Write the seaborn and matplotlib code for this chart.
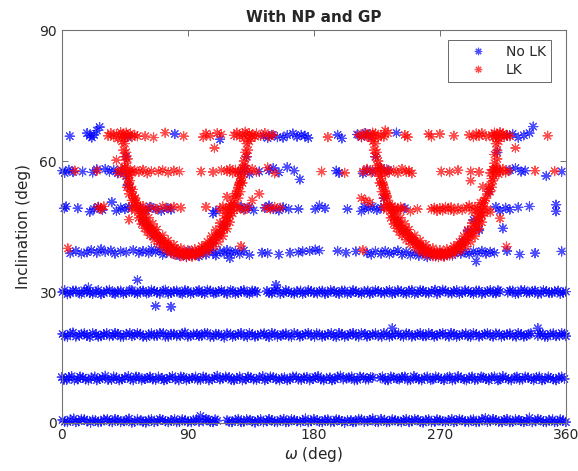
import matplotlib
matplotlib.use("Agg")
import matplotlib.pyplot as plt
import pandas as pd
import seaborn as sns

# (omega [deg], inclination [deg])
no_lk_band0 = [
    (0.5, 0.7), (4, 0.2), (8.5, 1.0), (12, 0.4), (16, 0.8), (20.5, 0.1), (24, 0.6), (28, 0.3),
    (32.5, 0.9), (36, 0.2), (40, 0.7), (44.5, 0.4), (48, 1.0), (52, 0.3), (56.5, 0.6), (60, 0.1),
    (64, 0.8), (68.5, 0.4), (72, 0.7), (76, 0.2), (80.5, 0.9), (84, 0.3), (88, 0.6), (92.5, 0.2),
    (96, 0.8), (99, 1.6), (101, 0.4), (104.5, 0.7), (108, 0.2), (111, 0.5), (118, 0.6), (121.5, 0.2),
    (126, 0.9), (130, 0.3), (134.5, 0.7), (138, 0.1), (142, 0.8), (146.5, 0.4), (150, 0.6), (154, 0.2),
    (158.5, 0.9), (162, 0.3), (166, 0.7), (170.5, 0.2), (174, 1.0), (178, 0.4), (182.5, 0.6), (186, 0.2),
    (190, 0.8), (194.5, 0.3), (198, 0.7), (202, 0.1), (206.5, 0.6), (210, 0.3), (214, 0.8), (218.5, 0.4),
    (222, 1.0), (226, 0.2), (230.5, 0.7), (234, 0.3), (238, 0.6), (242.5, 0.2), (246, 0.9), (250, 0.4),
    (254.5, 0.7), (258, 0.1), (262, 0.8), (266.5, 0.3), (270, 0.6), (274, 0.2), (278.5, 0.9), (282, 0.4),
    (286, 0.7), (290.5, 0.2), (294, 0.8), (298, 0.3), (302.5, 1.1), (306, 0.4), (310, 0.6), (314.5, 0.2),
    (318, 0.9), (322, 0.3), (326.5, 0.7), (330, 0.2), (334, 1.2), (338.5, 0.4), (342, 0.7), (346, 0.2),
    (350.5, 0.8), (354, 0.3), (358, 0.6), (360, 0.2),
]
no_lk_band0_fill = [
    (2, 0.3), (6, 0.8), (10, 0.2), (14, 0.9), (18, 0.4), (22, 0.7), (26, 0.2), (30, 0.8),
    (34, 0.4), (38, 0.9), (42, 0.2), (46, 0.6), (50, 0.1), (54, 0.8), (58, 0.3), (62, 0.7),
    (66, 0.2), (70, 0.9), (74, 0.4), (78, 0.6), (82, 0.2), (86, 0.8), (90, 0.3), (94, 0.7),
    (98, 0.3), (103, 0.9), (106, 0.3), (109.5, 0.8), (119.5, 0.3), (124, 0.7), (128, 0.2), (132, 0.8),
    (136, 0.4), (140, 0.6), (144, 0.2), (148, 0.9), (152, 0.3), (156, 0.7), (160, 0.2), (164, 0.8),
    (168, 0.4), (172, 0.6), (176, 0.2), (180, 0.9), (184, 0.3), (188, 0.7), (192, 0.2), (196, 0.8),
    (200, 0.4), (204, 0.6), (208, 0.2), (212, 0.9), (216, 0.3), (220, 0.7), (224, 0.3), (228, 0.9),
    (232, 0.2), (236, 0.8), (240, 0.4), (244, 0.6), (248, 0.2), (252, 0.9), (256, 0.3), (260, 0.7),
    (264, 0.2), (268, 0.8), (272, 0.4), (276, 0.6), (280, 0.2), (284, 0.9), (288, 0.3), (292, 0.7),
    (296, 0.2), (300, 0.8), (304, 0.3), (308, 0.9), (312, 0.3), (316, 0.7), (320, 0.2), (324, 0.8),
    (328, 0.4), (332, 0.6), (336, 0.2), (340, 0.9), (344, 0.3), (348, 0.7), (352, 0.2), (356, 0.8),
]
no_lk_band10 = [
    (0, 10.5), (3.5, 9.9), (7, 10.7), (11.5, 10.0), (15, 10.4), (19, 9.8), (23.5, 10.6), (27, 10.1),
    (31, 10.8), (35.5, 9.9), (39, 10.4), (43, 10.0), (47.5, 10.7), (51, 9.8), (55, 10.5), (59.5, 10.1),
    (63, 10.6), (67, 9.9), (71.5, 10.3), (75, 10.0), (79, 10.7), (83.5, 9.8), (87, 10.5), (91, 10.1),
    (95.5, 10.6), (99, 9.9), (103, 10.4), (107.5, 10.0), (111, 10.8), (115, 10.2), (119.5, 10.5), (123, 9.8),
    (127, 10.6), (131.5, 10.0), (135, 10.4), (139, 9.9), (143.5, 10.7), (147, 10.1), (151, 10.5), (155.5, 9.8),
    (159, 10.4), (163, 10.0), (167.5, 10.6), (171, 9.9), (175, 10.5), (179.5, 10.1), (183, 10.7), (187, 9.8),
    (191.5, 10.4), (195, 10.0), (199, 10.8), (203.5, 10.2), (207, 10.6), (211, 9.9), (215.5, 10.5), (219, 10.0),
    (222, 10.4), (227.5, 10.3), (231, 9.9), (235, 10.6), (239.5, 10.1), (243, 10.5), (247, 9.8), (251.5, 10.7),
    (255, 10.0), (259, 10.4), (263.5, 9.9), (267, 10.6), (271, 10.1), (275.5, 10.5), (279, 9.8), (283, 10.7),
    (287.5, 10.0), (291, 10.4), (295, 9.9), (299.5, 10.6), (303, 10.1), (307, 10.5), (311.5, 9.8), (315, 10.7),
    (319, 10.0), (323.5, 10.4), (327, 9.9), (331, 10.6), (335.5, 10.1), (339, 10.5), (343, 9.8), (347.5, 10.6),
    (351, 10.0), (355, 10.4), (359, 10.1),
]
no_lk_band10_fill = [
    (1.5, 9.9), (5, 10.5), (9, 9.8), (13, 10.6), (17, 10.0), (21, 10.4), (25, 9.8), (29, 10.3),
    (33, 9.9), (37, 10.6), (41, 9.8), (45, 10.4), (49, 10.0), (53, 10.6), (57, 9.8), (61, 10.3),
    (65, 10.0), (69, 10.6), (73, 9.8), (77, 10.4), (81, 10.0), (85, 10.6), (89, 9.8), (93, 10.3),
    (97, 9.9), (101, 10.6), (105, 9.8), (109, 10.4), (113, 10.0), (117, 10.6), (121, 9.9), (125, 10.3),
    (129, 9.8), (133, 10.6), (137, 10.0), (141, 10.4), (145, 9.8), (149, 10.6), (153, 10.0), (157, 10.3),
    (161, 9.8), (165, 10.6), (169, 10.0), (173, 10.4), (177, 9.8), (181, 10.5), (185, 10.0), (189, 10.3),
    (193, 9.8), (197, 10.6), (201, 10.0), (205, 10.4), (209, 9.8), (213, 10.6), (217, 10.0), (220.5, 10.5),
    (229, 10.6), (233, 9.8), (237, 10.4), (241, 10.0), (245, 10.6), (249, 9.9), (253, 10.3), (257, 9.8),
    (261, 10.6), (265, 10.0), (269, 10.4), (273, 9.8), (277, 10.6), (281, 10.0), (285, 10.3), (289, 9.8),
    (293, 10.6), (297, 10.0), (301, 10.4), (305, 9.8), (309, 10.6), (313, 10.0), (317, 10.3), (321, 9.8),
    (325, 10.6), (329, 10.0), (333, 10.4), (337, 9.8), (341, 10.6), (345, 10.0), (349, 10.3), (353, 9.8),
    (357, 10.6),
]
no_lk_band20 = [
    (0.5, 20.4), (4, 19.8), (8, 20.7), (12.5, 20.0), (16, 20.5), (20, 19.7), (24.5, 20.3), (28, 19.9),
    (32, 20.6), (36.5, 20.0), (40, 20.4), (44, 19.8), (48.5, 20.6), (52, 20.1), (56, 20.4), (60.5, 19.7),
    (64, 20.5), (68, 20.0), (72.5, 20.6), (76, 19.8), (80, 20.4), (84.5, 20.0), (88, 20.7), (92, 19.9),
    (96.5, 20.4), (100, 20.0), (104, 20.6), (108.5, 19.8), (112, 20.3), (116, 19.6), (120.5, 20.4), (124, 20.0),
    (128, 20.6), (132.5, 19.8), (136, 20.3), (140, 20.0), (144.5, 20.5), (148, 19.7), (152, 20.4), (156.5, 20.0),
    (160, 20.5), (164, 19.8), (168.5, 20.3), (172, 20.0), (176, 20.6), (180.5, 19.8), (184, 20.4), (188, 20.0),
    (192.5, 20.6), (196, 19.7), (200, 20.3), (204.5, 20.0), (208, 20.6), (212, 19.8), (216.5, 20.4), (220, 20.0),
    (224, 20.5), (228.5, 19.8), (232, 20.3), (236, 20.0), (236, 21.7), (240.5, 20.5), (244, 19.8), (248, 20.4),
    (252.5, 20.0), (256, 20.6), (260, 19.9), (264.5, 20.3), (268, 20.0), (272, 20.6), (276.5, 19.8), (280, 20.4),
    (284, 20.0), (288.5, 20.5), (292, 19.8), (296, 20.3), (300.5, 20.0), (304, 20.6), (308, 19.8), (312.5, 20.4),
    (316, 20.0), (320, 20.5), (324.5, 19.8), (328, 20.3), (332, 20.0), (335, 20.5), (340, 20.0), (340, 21.7),
    (343.5, 20.4), (347, 19.8), (351, 20.5), (355.5, 20.0), (359, 20.4),
]
no_lk_band20_fill = [
    (2, 19.9), (6, 20.5), (10, 19.8), (14, 20.4), (18, 20.0), (22, 20.6), (26, 19.8), (30, 20.3),
    (34, 19.9), (38, 20.6), (42, 19.8), (46, 20.4), (50, 19.9), (54, 20.6), (58, 19.8), (62, 20.3),
    (66, 20.0), (70, 20.6), (74, 19.8), (78, 20.4), (82, 19.9), (86, 20.5), (90, 19.8), (94, 20.4),
    (98, 19.9), (102, 20.6), (106, 19.8), (110, 20.4), (114, 20.0), (118, 20.5), (122, 19.8), (126, 20.3),
    (130, 19.9), (134, 20.6), (138, 19.8), (142, 20.4), (146, 20.0), (150, 20.6), (154, 19.8), (158, 20.3),
    (162, 19.9), (166, 20.6), (170, 19.8), (174, 20.4), (178, 20.0), (182, 20.5), (186, 19.8), (190, 20.3),
    (194, 19.9), (198, 20.6), (202, 19.8), (206, 20.4), (210, 20.0), (214, 20.6), (218, 19.8), (222, 20.3),
    (226, 19.9), (230, 20.6), (234, 19.8), (238, 20.4), (242, 20.0), (246, 20.5), (250, 19.8), (254, 20.3),
    (258, 19.9), (262, 20.6), (266, 19.8), (270, 20.4), (274, 20.0), (278, 20.6), (282, 19.8), (286, 20.3),
    (290, 19.9), (294, 20.6), (298, 19.8), (302, 20.4), (306, 20.0), (310, 20.5), (314, 19.8), (318, 20.3),
    (322, 19.9), (326, 20.6), (330, 19.8), (333.5, 20.4), (341.5, 20.5), (345, 19.8), (349, 20.4), (353, 19.9),
    (357, 20.6), (360, 19.9),
]
no_lk_band30 = [
    (0.5, 30.0), (4, 29.5), (8, 30.3), (12.5, 29.7), (16, 30.4), (19, 31.0), (20, 29.8), (24.5, 30.1),
    (28, 29.5), (32, 30.3), (36.5, 29.8), (40, 30.2), (44, 29.6), (48.5, 30.4), (52, 29.8), (54, 32.7),
    (56, 30.2), (60.5, 29.7), (64, 30.5), (67, 26.8), (68, 29.9), (72.5, 30.3), (76, 29.6), (78, 26.6),
    (80, 30.2), (84.5, 29.8), (88, 30.4), (92, 29.6), (96.5, 30.1), (100, 29.8), (104, 30.5), (108.5, 29.7),
    (112, 30.2), (116, 29.9), (120.5, 30.4), (124, 29.6), (128, 30.2), (132.5, 29.8), (136, 30.3), (139.5, 29.9),
    (146.5, 30.2), (150, 29.7), (153, 31.6), (154, 30.5), (158.5, 29.8), (162, 30.1), (166, 29.6), (170.5, 30.3),
    (174, 29.8), (178, 30.2), (182.5, 29.7), (186, 30.3), (190, 29.8), (194.5, 30.2), (198, 29.6), (202, 30.3),
    (206.5, 29.8), (210, 30.1), (214, 29.6), (218.5, 30.3), (222, 29.8), (226, 30.2), (230.5, 29.7), (234, 30.4),
    (238, 29.8), (242.5, 30.2), (246, 29.6), (250, 30.4), (254.5, 29.8), (258, 30.3), (262, 29.7), (266.5, 30.5),
    (270, 29.9), (274, 30.3), (278.5, 29.7), (282, 30.4), (286, 29.8), (290.5, 30.2), (294, 29.6), (298, 30.3),
    (302.5, 29.8), (306, 30.4), (310, 29.7), (313, 30.1), (318.5, 29.9), (322, 30.3), (326, 29.7), (330.5, 30.4),
    (334, 29.8), (338, 30.3), (342.5, 29.7), (346, 30.2), (350, 29.8), (354.5, 30.3), (358, 29.9), (360, 30.1),
]
no_lk_band30_fill = [
    (2, 30.4), (6, 29.7), (10, 30.3), (14, 29.6), (18, 30.2), (22, 29.6), (26, 30.4), (30, 29.8),
    (34, 30.5), (38, 29.6), (42, 30.3), (46, 29.8), (50, 30.4), (54, 29.6), (58, 30.3), (62, 29.8),
    (66, 30.2), (70, 29.6), (74, 30.5), (78, 29.8), (82, 30.3), (86, 29.6), (90, 30.2), (94, 29.9),
    (98, 30.4), (102, 29.6), (106, 30.3), (110, 29.8), (114, 30.4), (118, 29.6), (122, 30.2), (126, 29.8),
    (130, 30.4), (134, 29.6), (138, 30.2), (148, 29.8), (152, 30.3), (156, 29.6), (160, 30.4), (164, 29.8),
    (168, 30.2), (172, 29.6), (176, 30.4), (180, 29.8), (184, 30.2), (188, 29.6), (192, 30.4), (196, 29.8),
    (200, 30.3), (204, 29.6), (208, 30.4), (212, 29.8), (216, 30.2), (220, 29.6), (224, 30.4), (228, 29.8),
    (232, 30.2), (236, 29.6), (240, 30.4), (244, 29.8), (248, 30.3), (252, 29.6), (256, 30.4), (260, 29.8),
    (264, 30.2), (268, 29.6), (272, 30.5), (276, 29.8), (280, 30.2), (284, 29.6), (288, 30.4), (292, 29.8),
    (296, 30.3), (300, 29.6), (304, 30.2), (308, 29.8), (311.5, 30.4), (320, 30.3), (324, 29.6), (328, 30.4),
    (332, 29.8), (336, 30.2), (340, 29.6), (344, 30.4), (348, 29.8), (352, 30.2), (356, 29.6),
]
no_lk_band39 = [
    (6, 38.9), (10, 39.4), (14, 38.8), (18, 39.1), (21, 39.6), (25, 39.0), (28, 39.8), (31, 39.2),
    (35, 39.5), (38, 38.8), (42, 39.3), (46, 39.1), (51, 39.6), (55, 39.0), (58, 39.4), (62, 38.9),
    (64, 39.8), (67, 39.2), (70, 39.6), (72, 38.6), (75, 39.0), (77, 40.2), (80, 38.7), (82, 39.5),
    (84, 38.3), (87, 39.0), (89, 38.1), (91, 39.4), (93, 38.5), (96, 38.9), (98, 38.2), (100, 39.3),
    (103, 38.6), (105, 39.7), (108, 39.0), (110, 38.4), (113, 39.3), (116, 38.8), (118, 39.6), (120, 37.8),
    (121, 39.0), (124, 39.4), (127, 38.7), (130, 39.5), (134, 38.5), (143, 39.0), (147, 38.9), (155, 38.6),
    (163, 39.0), (169, 39.1), (172, 39.3), (177, 39.4), (181, 39.7), (184, 39.5), (197, 39.4), (203, 39.0),
    (210, 39.3), (218, 39.0), (221, 38.6), (224, 39.3), (228, 38.8), (231, 39.4), (234, 38.7), (237, 39.1),
    (240, 39.5), (243, 38.6), (246, 39.2), (249, 38.4), (252, 39.0), (255, 38.3), (258, 38.9), (261, 38.0),
    (264, 38.7), (267, 38.2), (270, 38.9), (273, 38.3), (276, 39.0), (279, 38.4), (282, 39.3), (285, 38.8),
    (288, 39.2), (291, 38.7), (294, 39.3), (296, 37.0), (297, 38.9), (300, 39.4), (303, 38.8), (306, 39.2),
    (309, 39.0), (318, 39.4), (327, 38.6), (338, 38.9), (357, 39.3),
]
no_lk_band49 = [
    (1.8, 49.2), (3, 49.6), (11.4, 49.2), (20, 48.4), (23, 49.0), (26, 49.5), (29, 48.8), (35.7, 50.6),
    (39, 48.6), (42, 49.3), (45, 49.0), (48, 49.5), (56, 49.3), (60, 48.8), (63, 49.5), (67, 49.0),
    (71, 48.6), (75, 49.3), (78, 48.9), (108, 48.0), (110, 48.6), (128, 49.5), (131, 49.0), (134, 49.4),
    (137, 48.7), (145, 49.3), (148, 49.8), (151, 49.0), (155, 48.7), (158, 49.4), (162, 49.0), (169, 49.0),
    (181, 49.0), (184, 49.8), (188, 49.2), (204, 49.0), (214, 48.5), (216, 49.5), (219, 49.0), (222, 49.6),
    (225, 48.8), (228, 49.3), (245, 49.2), (310, 49.5), (313, 48.6), (317, 49.3), (320, 48.9), (326, 49.4),
    (334, 49.6), (353, 50.0), (353, 48.5),
    (58, 46.2), (62, 44.8), (66, 43.0), (70, 41.6), (108, 41.2), (112, 43.0), (116, 45.5),
    (240, 46.0), (244, 44.0), (250, 42.0), (286, 41.5), (290, 44.0), (294, 46.5), (298, 44.2), (315, 44.6),
]
no_lk_band57 = [
    (0.5, 57.8), (2, 57.3), (5, 58.0), (8, 57.5), (14.8, 57.6), (22, 57.4), (25, 58.1), (31, 58.2),
    (34, 57.6), (37, 58.0), (40, 57.2), (43, 57.8), (46, 56.5), (47, 54.5), (46, 61.0), (128, 57.5),
    (131, 58.3), (132, 61.0), (134, 57.0), (141, 57.6), (148, 57.9), (151, 58.4), (155, 57.4), (161, 58.6),
    (166, 57.8), (170, 55.8), (196, 57.8), (198, 57.3), (215, 57.2), (218, 57.9), (222, 57.6), (224, 61.0),
    (228, 58.4), (230, 51.5), (233, 57.9), (305, 53.0), (311, 62.0), (320, 57.9), (324, 58.4), (328, 57.6),
    (331, 57.8), (346, 56.6), (357, 57.6),
]
no_lk_band66 = [
    (5.7, 65.7), (18, 66.4), (20, 65.8), (21.4, 65.4), (23, 66.0), (25, 67.0), (27, 67.8), (47, 65.5),
    (80.7, 66.2), (113, 65.0), (144, 65.8), (147, 65.3), (150, 66.0), (154, 65.5), (158, 65.4), (161, 65.9),
    (165, 66.3), (168, 65.6), (171, 66.0), (173.6, 65.8), (176, 65.3), (197, 66.0), (200, 65.2), (211, 66.1),
    (214, 65.5), (217, 66.4), (219, 65.8), (239, 66.5), (318, 65.8), (322, 66.2), (326, 65.4), (330, 65.9),
    (334, 66.4), (336.7, 67.9),
]

lk_band66 = [
    (33, 65.8), (35, 66.4), (37, 65.5), (39, 66.2), (40, 65.2), (42, 66.6), (43, 65.8), (44, 66.2),
    (45, 65.3), (46, 66.5), (47, 65.9), (49, 66.3), (50, 65.5), (52, 66.0), (54, 65.7), (59.5, 65.7),
    (65.5, 65.4), (73.8, 66.5), (87, 65.7), (101, 65.5), (103, 66.3), (106, 65.8), (109, 63.0), (111, 66.4),
    (114, 66.1), (123, 65.9), (125, 66.5), (127, 65.6), (129, 66.2), (130, 65.2), (131, 66.7), (133, 65.8),
    (134, 66.4), (135, 65.3), (136, 66.0), (138, 65.6), (139, 66.3), (142, 65.8), (145, 66.4), (148, 65.7),
    (151, 66.0), (190, 65.5), (212, 66.0), (214, 65.5), (216, 66.4), (218, 65.7), (220, 66.2), (221, 65.2),
    (222, 66.5), (223, 65.8), (224, 66.3), (226, 65.4), (228, 66.0), (230, 65.6), (231, 67.0), (233, 66.4),
    (245, 66.0), (247, 65.5), (262, 66.2), (264, 65.6), (270, 66.2), (280, 65.8), (291, 66.0), (294, 65.5),
    (296, 66.3), (298, 65.8), (300, 66.4), (303, 65.7), (307, 66.0), (308, 65.4), (309, 66.5), (310, 65.8),
    (311, 66.2), (312, 65.3), (313, 66.6), (314, 65.9), (315, 66.3), (316, 65.5), (318, 66.0), (320, 65.7),
    (324, 63.0), (347, 65.8),
    (43, 64.5), (45, 64.0), (44, 62.5), (46, 62.0), (45, 61.0), (47, 60.5), (46, 59.5), (45, 58.5),
    (134, 64.5), (132, 64.0), (133, 62.5), (131, 62.0), (132, 61.0), (130, 60.0), (131, 59.0), (129, 58.5),
    (222, 64.5), (224, 64.0), (223, 62.5), (225, 62.0), (224, 61.0), (226, 60.0), (225, 59.0), (227, 58.5),
    (312, 64.5), (310, 64.0), (311, 62.5), (309, 61.5), (311, 60.5), (309, 59.5), (310, 58.5), (308, 58.0),
]
lk_band57 = [
    (9.3, 57.8), (25, 57.8), (39, 60.2), (40, 57.4), (42, 58.2), (44, 57.0), (45, 58.4), (47, 57.6),
    (48, 56.8), (49, 58.0), (50, 57.3), (52, 57.9), (55, 57.5), (58, 58.0), (61, 57.2), (64, 57.7),
    (69, 57.6), (72, 57.9), (76, 57.4), (80, 57.8), (84, 57.6), (99.5, 57.6), (108, 57.5), (114, 57.9),
    (118, 57.7), (120, 58.2), (122, 57.3), (124, 58.0), (126, 57.5), (127, 56.5), (128, 55.5), (129, 58.3),
    (130, 57.0), (133, 57.8), (136, 58.2), (139, 57.5), (147, 58.5), (152, 57.2), (185.5, 57.6), (202, 57.3),
    (215, 57.6), (218, 58.2), (221, 57.4), (224, 58.0), (226, 57.3), (227, 56.5), (228, 58.3), (229, 57.6),
    (231, 57.0), (232, 58.1), (234, 57.5), (237, 57.9), (240, 57.3), (243, 58.2), (246, 57.5), (248, 57.8),
    (250, 57.2), (271, 57.6), (277, 57.5), (283, 57.9), (292, 57.6), (292, 55.5), (298, 57.5), (306, 57.3),
    (308, 58.0), (310, 57.5), (311, 58.3), (312, 57.0), (313, 57.8), (315, 58.2), (317, 57.4), (319, 57.8),
    (338, 57.8), (352, 57.7),
    (47, 56.0), (48, 55.0), (49, 54.0), (50, 53.0), (51, 52.0), (52, 51.0), (53, 50.5), (54, 50.0),
    (48.5, 55.5), (50.5, 53.5), (52.5, 51.5), (46.5, 54.0), (48, 52.5), (50, 51.0), (52.5, 49.8),
    (128, 56.0), (127, 55.0), (126, 54.0), (125, 53.0), (124, 52.0), (122, 51.0), (121, 50.0), (120, 49.5),
    (126.5, 54.5), (124.5, 52.5), (129, 55.0), (127.5, 53.0), (126, 51.5), (123, 50.0),
    (228, 56.0), (229, 55.0), (230, 54.0), (231, 53.0), (232, 52.0), (233, 51.0), (234, 50.0), (235, 49.5),
    (229.5, 54.5), (231.5, 52.5), (227, 55.0), (228.5, 53.0), (230, 51.5), (232.5, 50.0),
    (309, 56.5), (308, 55.5), (306, 54.5), (305, 53.5), (304, 52.5), (303, 51.5), (301, 50.5), (300, 49.5),
    (300.7, 54.1), (307, 54.0), (307, 56.0), (306, 53.0), (302, 51.0), (299, 50.5),
]
lk_band49 = [
    (26, 49.5), (28, 49.0), (30, 49.6), (48, 46.6), (50, 49.3), (52, 48.6), (54, 49.5), (56, 48.8),
    (58, 49.7), (60, 48.5), (64, 49.4), (68, 49.0), (72, 49.6), (76, 49.2), (80, 49.5), (85, 49.3),
    (103, 49.5), (113, 49.0), (115, 49.6), (117, 48.7), (118, 51.8), (119, 49.3), (121, 48.6), (123, 49.8),
    (125, 49.0), (127, 49.5), (130, 48.8), (133, 49.4), (136, 51.0), (141, 52.5), (146, 49.3), (149, 49.0),
    (152, 49.5), (156, 49.3), (214, 51.5), (217, 51.0), (220, 50.5), (230, 49.5), (232, 48.8), (234, 49.6),
    (236, 48.7), (238, 49.4), (240, 48.8), (242, 49.5), (244, 49.0), (249, 48.5), (254, 49.0), (264, 49.0),
    (266, 49.3), (268, 48.6), (270, 49.2), (272, 48.7), (274, 49.5), (276, 48.9), (278, 49.4), (280, 48.6),
    (283, 49.2), (286, 48.8), (289, 49.4), (291, 49.8), (293, 48.6), (295, 49.5), (297, 49.0), (299, 48.4),
    (301, 49.6), (304, 49.0), (306, 48.3), (313, 46.9),
]
lk_band39 = [
    (4.3, 40.0), (128, 40.5), (215, 39.6), (317.6, 40.4),
]
lk_left_u = [
    (56, 48.0), (57, 47.2), (58, 46.5), (60, 45.8), (61, 45.2), (63, 44.5), (64, 44.0), (66, 43.4),
    (68, 42.8), (70, 42.3), (72, 41.7), (74, 41.2), (76, 40.7), (78, 40.2), (80, 39.8), (82, 39.5),
    (84, 39.2), (86, 39.0), (88, 38.8), (90, 38.7), (92, 38.8), (94, 38.9), (96, 39.1), (98, 39.4),
    (100, 39.7), (102, 40.1), (104, 40.6), (106, 41.1), (108, 41.8), (110, 42.5), (112, 43.3), (114, 44.2),
    (116, 45.2), (117, 46.2), (118, 47.2), (119, 48.2),
    (57, 48.4), (59, 47.0), (60, 46.2), (62, 45.3), (65, 44.2), (67, 43.6), (69, 42.5), (71, 42.0),
    (73, 41.0), (75, 40.8), (77, 40.0), (79, 39.6), (83, 39.1), (87, 38.6), (91, 38.9), (95, 38.6),
    (99, 39.2), (103, 40.4), (105, 40.3), (107, 41.5), (109, 41.9), (111, 43.0), (113, 43.5), (115, 45.0),
    (116, 44.5), (118, 46.3), (120, 47.5),
    (55, 47.0), (57, 45.6), (59, 44.6), (61, 43.8), (63, 43.0), (66, 42.0), (69, 41.0), (72, 40.2),
    (75, 39.5), (78, 39.0), (81, 38.5), (85, 38.2), (89, 38.0), (93, 38.1), (97, 38.4), (101, 38.9),
    (105, 39.5), (109, 40.4), (112, 41.5), (115, 42.8), (118, 44.5), (120, 46.0), (122, 48.0),
    (59, 48.6), (62, 47.0), (65, 45.6), (68, 44.3), (72, 43.0), (76, 41.8), (80, 40.8), (85, 40.0),
    (90, 39.6), (95, 39.8), (100, 40.5), (104, 41.5), (107, 42.8), (110, 44.2), (113, 45.8), (116, 47.5),
]
lk_right_u = [
    (236, 48.0), (237, 47.2), (238, 46.5), (240, 45.8), (241, 45.2), (243, 44.5), (244, 44.0), (246, 43.4),
    (248, 42.8), (250, 42.3), (252, 41.7), (254, 41.2), (256, 40.7), (258, 40.2), (260, 39.8), (262, 39.5),
    (264, 39.2), (266, 39.0), (268, 38.8), (270, 38.7), (272, 38.8), (274, 38.9), (276, 39.1), (278, 39.4),
    (280, 39.7), (282, 40.1), (284, 40.6), (286, 41.1), (288, 41.8), (290, 42.5), (292, 43.3), (294, 44.2),
    (296, 45.2), (297, 46.2), (298, 47.2), (299, 48.2),
    (237, 48.4), (239, 47.0), (240, 46.2), (242, 45.3), (245, 44.2), (247, 43.6), (249, 42.5), (251, 42.0),
    (253, 41.0), (255, 40.8), (257, 40.0), (259, 39.6), (263, 39.1), (267, 38.6), (271, 38.9), (275, 38.6),
    (279, 39.2), (283, 40.4), (285, 40.3), (287, 41.5), (289, 41.9), (291, 43.0), (293, 43.5), (295, 45.0),
    (296, 44.5), (298, 46.3), (300, 47.5),
    (235, 47.0), (237, 45.6), (239, 44.6), (241, 43.8), (243, 43.0), (246, 42.0), (249, 41.0), (252, 40.2),
    (255, 39.5), (258, 39.0), (261, 38.5), (265, 38.2), (269, 38.0), (273, 38.1), (277, 38.4), (281, 38.9),
    (285, 39.5), (289, 40.4), (292, 41.5), (295, 42.8), (298, 44.5), (300, 46.0), (302, 48.0),
    (239, 48.6), (242, 47.0), (245, 45.6), (248, 44.3), (252, 43.0), (256, 41.8), (260, 40.8), (265, 40.0),
    (270, 39.6), (275, 39.8), (280, 40.5), (284, 41.5), (287, 42.8), (290, 44.2), (293, 45.8), (296, 47.5),
]

NO_LK_SETS = [no_lk_band0, no_lk_band0_fill, no_lk_band10, no_lk_band10_fill,
              no_lk_band20, no_lk_band20_fill, no_lk_band30, no_lk_band30_fill,
              no_lk_band39, no_lk_band49, no_lk_band57, no_lk_band66]
LK_SETS = [lk_band66, lk_band57, lk_band49, lk_band39, lk_left_u, lk_right_u]


def to_frame(sets, label):
    rows = [p for s in sets for p in s]
    df = pd.DataFrame(rows, columns=["omega", "inc"])
    df["group"] = label
    return df


def plot():
    sns.set_style("ticks")
    plt.rcParams["font.family"] = ["DejaVu Sans"]

    df = pd.concat([to_frame(NO_LK_SETS, "No LK"), to_frame(LK_SETS, "LK")],
                   ignore_index=True)

    fig, ax = plt.subplots(figsize=(5.78, 4.71), dpi=100)
    fig.subplots_adjust(left=0.107, right=0.979, bottom=0.102, top=0.936)

    sns.scatterplot(data=df, x="omega", y="inc", hue="group",
                    palette={"No LK": "#0000ff", "LK": "#ff0000"},
                    marker=(8, 2, 0), s=44, linewidth=0.8, alpha=0.7,
                    clip_on=False, ax=ax)

    ax.set_xlim(0, 360)
    ax.set_ylim(0, 90)
    ax.set_xticks([0, 90, 180, 270, 360])
    ax.set_yticks([0, 30, 60, 90])
    ax.tick_params(direction="in", top=True, right=True, length=4,
                   width=0.6, color="0.35", labelsize=10, labelcolor="0.15")
    for sp in ax.spines.values():
        sp.set_color("0.45")
        sp.set_linewidth(0.8)
        sp.set_visible(True)

    ax.set_xlabel(r"$\omega$ (deg)", fontsize=11, color="0.15", labelpad=2)
    ax.set_ylabel("Inclination (deg)", fontsize=11, color="0.15", labelpad=6)
    ax.set_title("With NP and GP", fontsize=11, fontweight="bold", pad=6)

    sns.move_legend(ax, "upper right", title=None, frameon=True, fancybox=False,
                    edgecolor="0.15", fontsize=10, handlelength=3.6,
                    handletextpad=0.2, borderpad=0.35, labelspacing=0.3,
                    borderaxespad=0, bbox_to_anchor=(0.970, 0.975),
                    markerscale=0.8)
    leg = ax.get_legend()
    leg.get_frame().set_linewidth(0.6)

    plt.savefig("out.png", dpi=100)


if __name__ == "__main__":
    plot()
